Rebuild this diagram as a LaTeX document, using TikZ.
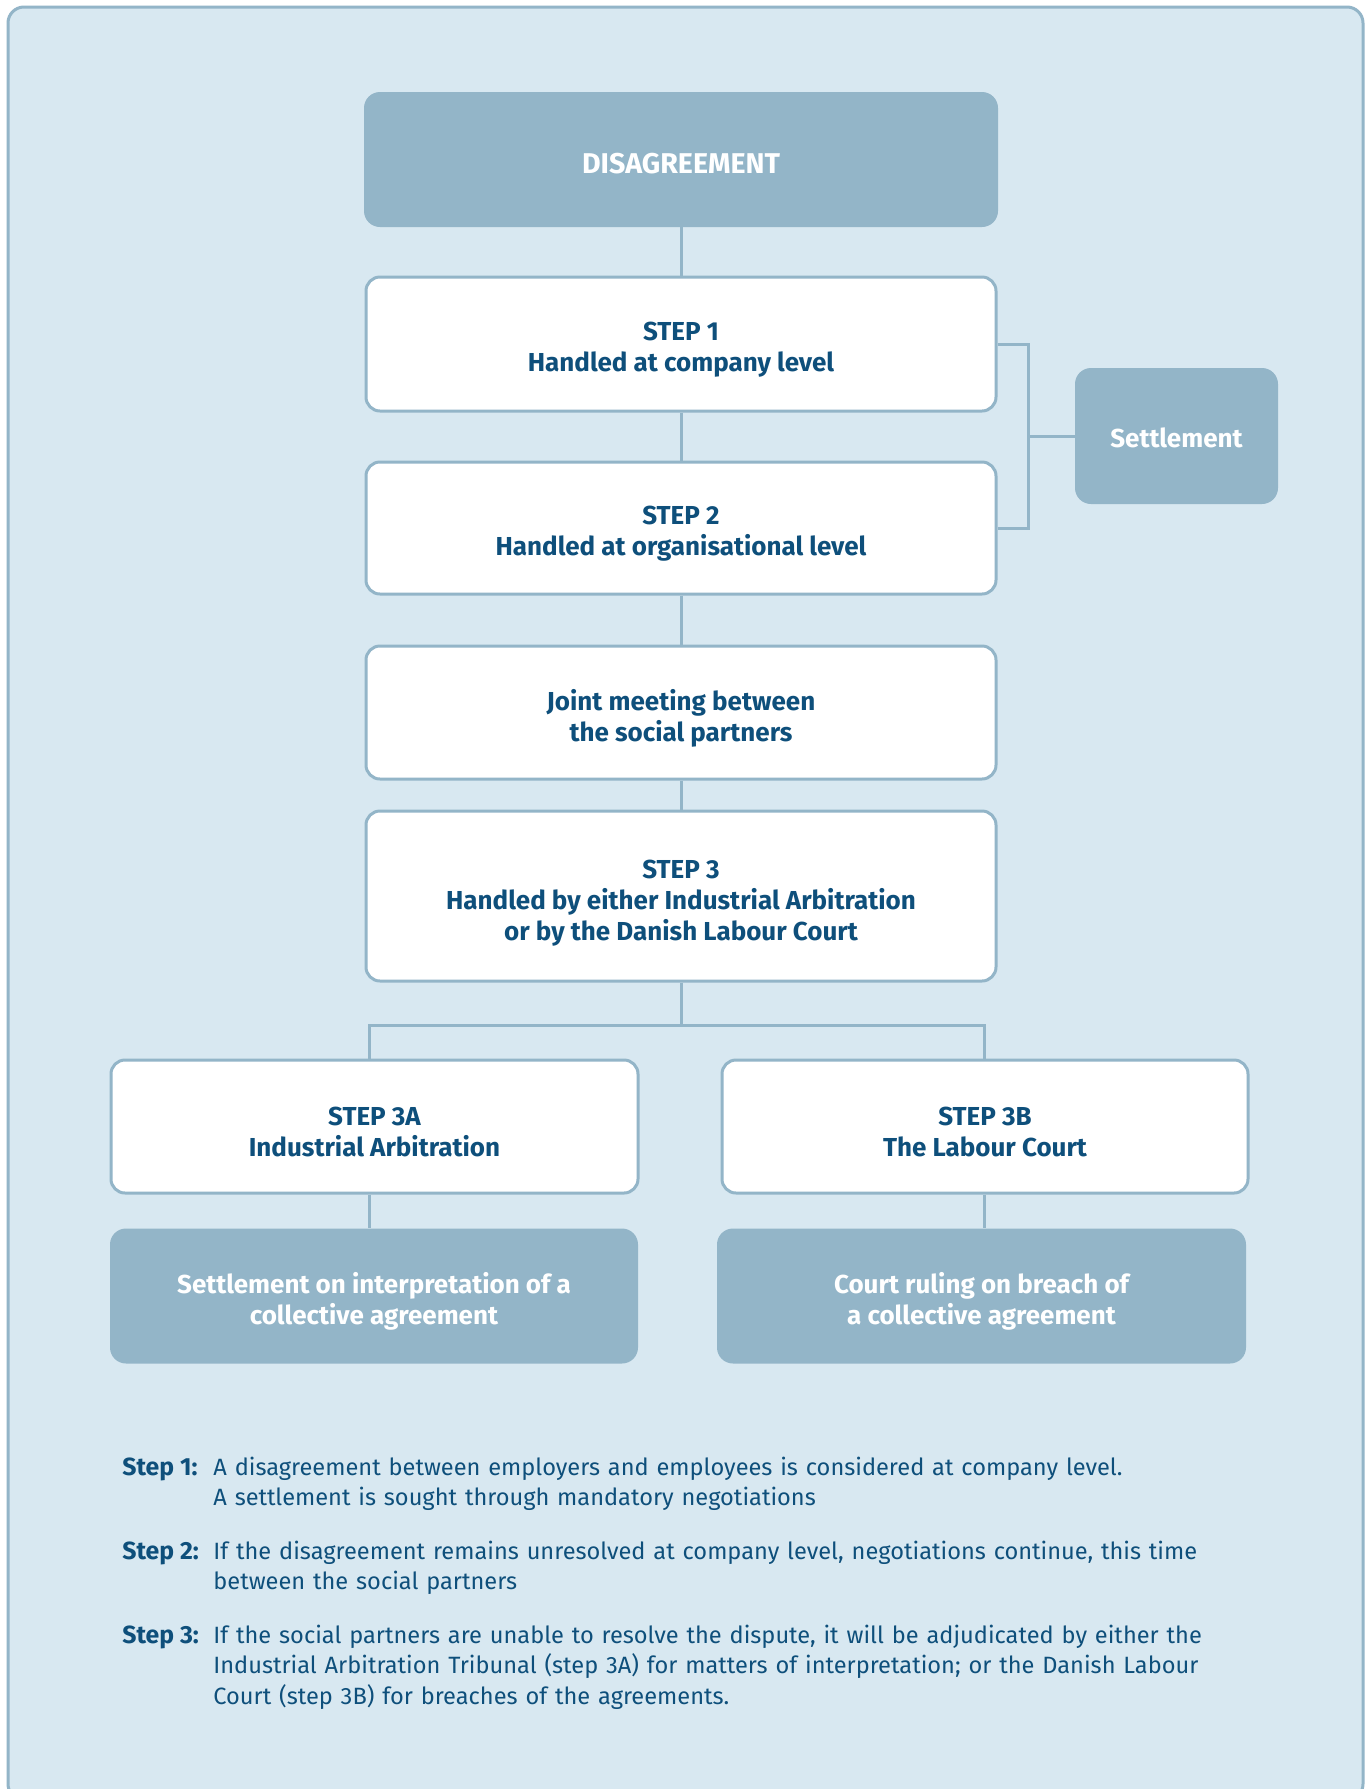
\documentclass[tikz,border=0pt]{standalone}
\usepackage{fontspec}
\setmainfont{Fira Sans}
\definecolor{bg}{HTML}{D8E8F1}
\definecolor{edgec}{HTML}{93B5C8}
\definecolor{ink}{HTML}{0E4F7B}
\begin{document}
\begin{tikzpicture}[x=0.5pt,y=-0.5pt,
  whitebox/.style={draw=edgec, line width=1.5pt, fill=white, rounded corners=7pt, inner sep=0pt},
  darkbox/.style={fill=edgec, rounded corners=8pt, inner sep=0pt},
  boxtext/.style={text=ink, font=\bfseries\fontsize{13}{15.5}\selectfont, align=center, inner sep=0pt},
  darktext/.style={boxtext, text=white},
  conn/.style={draw=edgec, line width=1.5pt},
  notelabel/.style={anchor=base west, inner sep=0pt, text=ink, font=\bfseries\fontsize{12.4}{15.25}\selectfont},
  notetext/.style={anchor=base west, inner sep=0pt, text=ink, align=left, text width=570pt, font=\fontsize{11.8}{15.25}\selectfont}
]
\useasboundingbox (0,0) rectangle (1370,1789);
\fill[white] (0,0) rectangle (1370,1789);
\draw[draw=edgec, line width=1.5pt, fill=bg, rounded corners=8pt] (8,7) rectangle (1363,1800);

\node[darkbox, minimum width=317pt, minimum height=67.5pt] (dis) at (681,159.5) {};
\node[darktext, font=\bfseries\fontsize{14.3}{16}\selectfont, yshift=-1.9pt] (dist) at (dis) {DISAGREEMENT};
\node[whitebox, minimum width=315pt, minimum height=67pt] (s1) at (681,344) {};
\node[boxtext, yshift=-2.9pt] (s1t) at (s1) {STEP 1\\Handled at company level};
\node[whitebox, minimum width=315pt, minimum height=66pt] (s2) at (681,528) {};
\node[boxtext, yshift=-2.9pt] (s2t) at (s2) {STEP 2\\Handled at organisational level};
\node[whitebox, minimum width=315pt, minimum height=66.5pt] (jm) at (681,712.5) {};
\node[boxtext, yshift=-2.9pt] (jmt) at (jm) {Joint meeting between\\the social partners};
\node[whitebox, minimum width=315pt, minimum height=85pt] (s3) at (681,896) {};
\node[boxtext, yshift=-3.4pt] (s3t) at (s3) {STEP 3\\Handled by either Industrial Arbitration\\or by the Danish Labour Court};
\node[whitebox, minimum width=263.5pt, minimum height=66.5pt] (s3a) at (374.5,1126.5) {};
\node[boxtext, yshift=-2.9pt] (s3at) at (s3a) {STEP 3A\\Industrial Arbitration};
\node[whitebox, minimum width=263pt, minimum height=66.5pt] (s3b) at (985,1126.5) {};
\node[boxtext, yshift=-2.9pt] (s3bt) at (s3b) {STEP 3B\\The Labour Court};
\node[darkbox, minimum width=264pt, minimum height=67.5pt] (ra) at (374,1296) {};
\node[darktext, yshift=-2.9pt] (rat) at (ra) {Settlement on interpretation of a\\collective agreement};
\node[darkbox, minimum width=264.5pt, minimum height=67.5pt] (rb) at (981.5,1296) {};
\node[darktext, yshift=-2.9pt] (rbt) at (rb) {Court ruling on breach of\\a collective agreement};
\node[darkbox, minimum width=101.5pt, minimum height=68pt] (sett) at (1176.5,436) {};
\node[darktext, yshift=-1.1pt] (settt) at (sett) {Settlement};

\coordinate (bj) at (681,1025);
\coordinate (aj) at (369,1025);
\coordinate (cj) at (984.5,1025);
\coordinate (bt) at (1028,344);
\coordinate (bb) at (1028,528);

\draw[conn] (dis.south) -- (s1.north);
\draw[conn] (s1.south) -- (s2.north);
\draw[conn] (s2.south) -- (jm.north);
\draw[conn] (jm.south) -- (s3.north);
\draw[conn] (s3.south) -- (bj);
\draw[conn] (aj |- s3a.north) -- (aj) -- (cj) -- (cj |- s3b.north);
\draw[conn] (aj |- s3a.south) -- (aj |- ra.north);
\draw[conn] (cj |- s3b.south) -- (cj |- rb.north);
\draw[conn] (s1.east) -- (bt) -- (bb) -- (s2.east);
\draw[conn] (sett.west) -- (sett.west -| bt);

\node[notelabel] (l1) at (122,1475) {Step 1:};
\node[notelabel] (l2) at (122,1559) {Step 2:};
\node[notelabel] (l3) at (122,1643) {Step 3:};
\node[notetext] (t1) at (213,1475) {A disagreement between employers and employees is considered at company level.\\A settlement is sought through mandatory negotiations};
\node[notetext] (t2) at (213,1559) {If the disagreement remains unresolved at company level, negotiations continue, this time\\between the social partners};
\node[notetext] (t3) at (213,1643) {If the social partners are unable to resolve the dispute, it will be adjudicated by either the\\Industrial Arbitration Tribunal (step 3A) for matters of interpretation; or the Danish Labour\\Court (step 3B) for breaches of the agreements.};
\end{tikzpicture}
\end{document}
